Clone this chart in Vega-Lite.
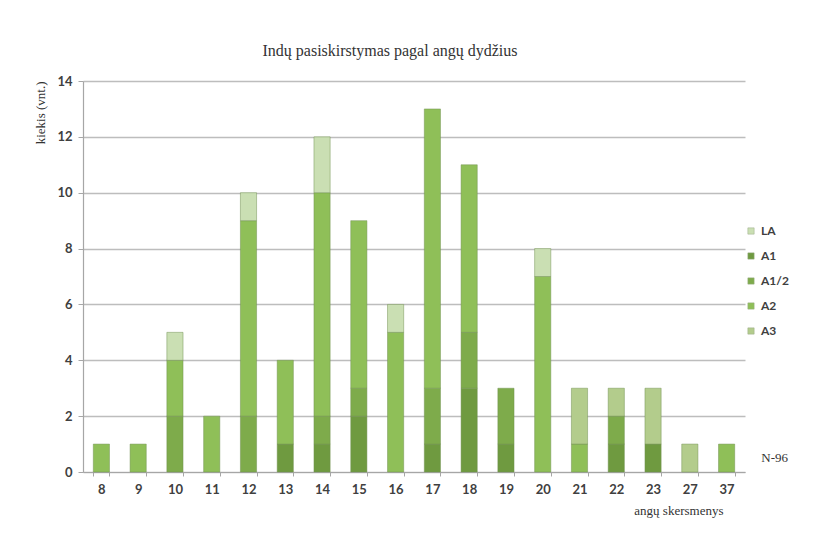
{
  "$schema": "https://vega.github.io/schema/vega-lite/v6.json",
  "autosize": "none",
  "width": 662,
  "height": 391,
  "padding": {"left": 83, "top": 81, "right": 72, "bottom": 68},
  "background": "white",
  "title": {
    "text": "Indų pasiskirstymas pagal angų dydžius",
    "font": "Liberation Serif",
    "fontSize": 16,
    "fontWeight": "normal",
    "color": "#333333",
    "offset": 16,
    "dx": -24
  },
  "data": {
    "values": [
      {"d": "8", "type": "A2", "n": 1},
      {"d": "9", "type": "A2", "n": 1},
      {"d": "10", "type": "A1/2", "n": 2},
      {"d": "10", "type": "A2", "n": 2},
      {"d": "10", "type": "LA", "n": 1},
      {"d": "11", "type": "A2", "n": 2},
      {"d": "12", "type": "A1/2", "n": 2},
      {"d": "12", "type": "A2", "n": 7},
      {"d": "12", "type": "LA", "n": 1},
      {"d": "13", "type": "A1", "n": 1},
      {"d": "13", "type": "A2", "n": 3},
      {"d": "14", "type": "A1", "n": 1},
      {"d": "14", "type": "A1/2", "n": 1},
      {"d": "14", "type": "A2", "n": 8},
      {"d": "14", "type": "LA", "n": 2},
      {"d": "15", "type": "A1", "n": 2},
      {"d": "15", "type": "A1/2", "n": 1},
      {"d": "15", "type": "A2", "n": 6},
      {"d": "16", "type": "A2", "n": 5},
      {"d": "16", "type": "LA", "n": 1},
      {"d": "17", "type": "A1", "n": 1},
      {"d": "17", "type": "A1/2", "n": 2},
      {"d": "17", "type": "A2", "n": 10},
      {"d": "18", "type": "A1", "n": 3},
      {"d": "18", "type": "A1/2", "n": 2},
      {"d": "18", "type": "A2", "n": 6},
      {"d": "19", "type": "A1", "n": 1},
      {"d": "19", "type": "A1/2", "n": 2},
      {"d": "20", "type": "A2", "n": 7},
      {"d": "20", "type": "LA", "n": 1},
      {"d": "21", "type": "A2", "n": 1},
      {"d": "21", "type": "A3", "n": 2},
      {"d": "22", "type": "A1", "n": 1},
      {"d": "22", "type": "A1/2", "n": 1},
      {"d": "22", "type": "A3", "n": 1},
      {"d": "23", "type": "A1", "n": 1},
      {"d": "23", "type": "A3", "n": 2},
      {"d": "27", "type": "A3", "n": 1},
      {"d": "37", "type": "A2", "n": 1}
    ]
  },
  "layer": [
    {
      "mark": {"type": "bar", "stroke": "#6f8f50", "strokeWidth": 0.8, "strokeOpacity": 0.6},
      "encoding": {
        "x": {
          "field": "d",
          "type": "ordinal",
          "sort": ["8","9","10","11","12","13","14","15","16","17","18","19","20","21","22","23","27","37"],
          "scale": {"paddingInner": 0.56, "paddingOuter": 0.28},
          "axis": {
            "title": "angų skersmenys",
            "titleFont": "Liberation Serif",
            "titleFontSize": 13,
            "titleFontWeight": "normal",
            "titleColor": "#333333",
            "titleAnchor": "end",
            "titleAlign": "right",
            "titleBaseline": "middle",
            "titleX": 640,
            "titleY": 38,
            "labelAngle": 0,
            "labelFont": "Lato",
            "labelFontWeight": "bold",
            "labelFontSize": 13,
            "labelColor": "#404040",
            "labelPadding": 7,
            "tickBand": "extent",
            "tickSize": 4,
            "tickColor": "#a6a6a6",
            "domainColor": "#a6a6a6",
            "domainWidth": 1.2
          }
        },
        "y": {
          "field": "n",
          "type": "quantitative",
          "aggregate": "sum",
          "stack": "zero",
          "scale": {"domain": [0, 14], "nice": false},
          "axis": {
            "values": [0, 2, 4, 6, 8, 10, 12, 14],
            "title": "kiekis (vnt.)",
            "titleFont": "Liberation Serif",
            "titleFontSize": 13,
            "titleFontWeight": "normal",
            "titleColor": "#333333",
            "titleAngle": -90,
            "titleAlign": "right",
            "titleBaseline": "middle",
            "titleX": -43,
            "titleY": 0,
            "labelFont": "Lato",
            "labelFontWeight": "bold",
            "labelFontSize": 13,
            "labelColor": "#404040",
            "labelPadding": 6,
            "tickSize": 5,
            "tickColor": "#a6a6a6",
            "domainColor": "#a6a6a6",
            "domainWidth": 1.2,
            "grid": true,
            "gridColor": "#bdbdbd",
            "gridWidth": 1.5
          }
        },
        "color": {
          "field": "type",
          "type": "nominal",
          "scale": {
            "domain": ["LA", "A1", "A1/2", "A2", "A3"],
            "range": ["#cadfb3", "#6f9a40", "#7eab4b", "#8fbf58", "#b3cc8c"]
          },
          "legend": {
            "title": null,
            "orient": "none",
            "legendX": 662,
            "legendY": 144,
            "symbolType": "square",
            "symbolSize": 40,
            "symbolStrokeColor": "#9aaa88",
            "symbolStrokeWidth": 0.5,
            "labelFont": "Lato",
            "labelFontWeight": "bold",
            "labelFontSize": 12,
            "labelColor": "#404040",
            "labelOffset": 4,
            "rowPadding": 13
          }
        },
        "order": {"field": "type", "sort": "ascending"}
      }
    },
    {
      "data": {"values": [{"label": "N-96"}]},
      "mark": {"type": "text", "font": "Liberation Serif", "fontSize": 13, "color": "#333333", "align": "center", "baseline": "middle", "dx": 48},
      "encoding": {
        "x": {"datum": "37"},
        "y": {"datum": 0.5},
        "text": {"field": "label"}
      }
    }
  ],
  "config": {
    "view": {"stroke": null}
  }
}
